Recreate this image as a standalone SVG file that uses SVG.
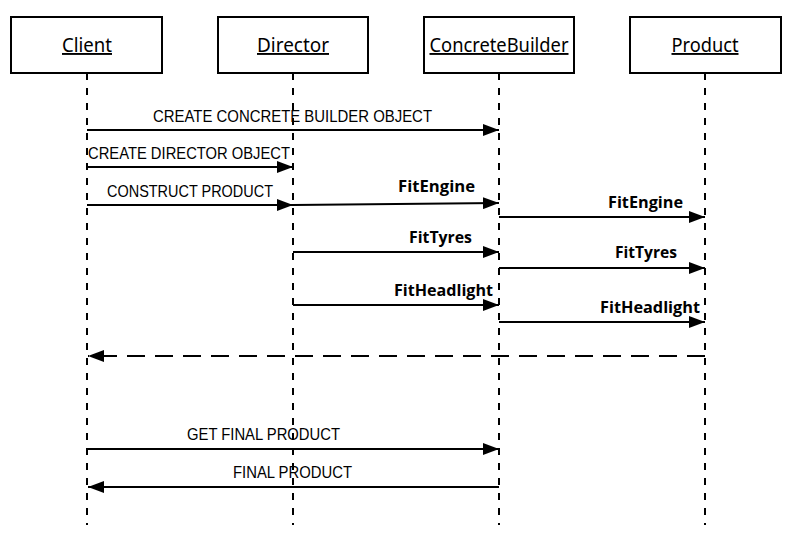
<svg xmlns="http://www.w3.org/2000/svg" width="790" height="535" viewBox="0 0 790 535">
<style>
.box{fill:#fff;stroke:#000;stroke-width:2}
.life{stroke:#000;stroke-width:2;stroke-dasharray:7 8;fill:none}
.name{font-family:"Noto Sans","Open Sans",sans-serif;font-size:19px;text-anchor:middle;text-decoration:underline;fill:#000}
.msg{stroke:#000;stroke-width:2;fill:none}
.ret{stroke:#000;stroke-width:2;fill:none;stroke-dasharray:18 10}
.hand{font-family:"Liberation Sans",sans-serif;font-size:16.5px;fill:#000}
.bold{font-family:"Open Sans","Noto Sans",sans-serif;font-size:16px;font-weight:bold;fill:#000;text-anchor:end}
</style>
<defs>
<marker id="ah" viewBox="0 0 16 12" refX="16" refY="6" markerWidth="16" markerHeight="12" markerUnits="userSpaceOnUse" orient="auto">
<path d="M0,0 L16,6 L0,12 Z" fill="#000"/>
</marker>
</defs>
<rect width="790" height="535" fill="#fff"/>
<g id="client">
<rect class="box" x="11" y="17" width="151" height="56"/>
<text class="name" x="87" y="52" textLength="50" lengthAdjust="spacingAndGlyphs">Client</text>
<line class="life" x1="87" y1="73" x2="87" y2="525"/>
</g>
<g id="director">
<rect class="box" x="218" y="17" width="150" height="56"/>
<text class="name" x="293" y="52" textLength="72" lengthAdjust="spacingAndGlyphs">Director</text>
<line class="life" x1="293" y1="73" x2="293" y2="525"/>
</g>
<g id="concretebuilder">
<rect class="box" x="424" y="17" width="150" height="56"/>
<text class="name" x="499" y="52" textLength="139" lengthAdjust="spacingAndGlyphs">ConcreteBuilder</text>
<line class="life" x1="499" y1="73" x2="499" y2="525"/>
</g>
<g id="product">
<rect class="box" x="630" y="17" width="151" height="56"/>
<text class="name" x="705" y="52" textLength="67" lengthAdjust="spacingAndGlyphs">Product</text>
<line class="life" x1="705" y1="73" x2="705" y2="525"/>
</g>
<g id="connectors">
<line class="msg" x1="87" y1="130" x2="499" y2="130" marker-end="url(#ah)"/>
<line class="msg" x1="87" y1="167" x2="293" y2="167" marker-end="url(#ah)"/>
<line class="msg" x1="87" y1="205" x2="293" y2="205" marker-end="url(#ah)"/>
<line class="msg" x1="293" y1="205" x2="499" y2="203" marker-end="url(#ah)"/>
<line class="msg" x1="499" y1="217" x2="705" y2="217" marker-end="url(#ah)"/>
<line class="msg" x1="293" y1="252" x2="499" y2="252" marker-end="url(#ah)"/>
<line class="msg" x1="499" y1="268" x2="705" y2="268" marker-end="url(#ah)"/>
<line class="msg" x1="293" y1="305" x2="499" y2="305" marker-end="url(#ah)"/>
<line class="msg" x1="499" y1="322" x2="705" y2="322" marker-end="url(#ah)"/>
<line class="ret" x1="705" y1="356" x2="88" y2="356" marker-end="url(#ah)"/>
<line class="msg" x1="87" y1="449" x2="499" y2="449" marker-end="url(#ah)"/>
<line class="msg" x1="499" y1="487" x2="88" y2="487" marker-end="url(#ah)"/>
<text class="hand" x="153" y="122" textLength="279" lengthAdjust="spacingAndGlyphs">CREATE CONCRETE BUILDER OBJECT</text>
<text class="hand" x="88" y="159" textLength="202" lengthAdjust="spacingAndGlyphs">CREATE DIRECTOR OBJECT</text>
<text class="hand" x="107" y="197" textLength="166" lengthAdjust="spacingAndGlyphs">CONSTRUCT PRODUCT</text>
<text class="bold" x="475" y="192" textLength="77" lengthAdjust="spacingAndGlyphs">FitEngine</text>
<text class="bold" x="683" y="208" textLength="75" lengthAdjust="spacingAndGlyphs">FitEngine</text>
<text class="bold" x="472" y="243" textLength="63" lengthAdjust="spacingAndGlyphs">FitTyres</text>
<text class="bold" x="677" y="258" textLength="62" lengthAdjust="spacingAndGlyphs">FitTyres</text>
<text class="bold" x="493" y="296" textLength="99" lengthAdjust="spacingAndGlyphs">FitHeadlight</text>
<text class="bold" x="700" y="313" textLength="100" lengthAdjust="spacingAndGlyphs">FitHeadlight</text>
<text class="hand" x="187" y="440" textLength="153" lengthAdjust="spacingAndGlyphs">GET FINAL PRODUCT</text>
<text class="hand" x="233" y="478" textLength="119" lengthAdjust="spacingAndGlyphs">FINAL PRODUCT</text>
</g>
</svg>
